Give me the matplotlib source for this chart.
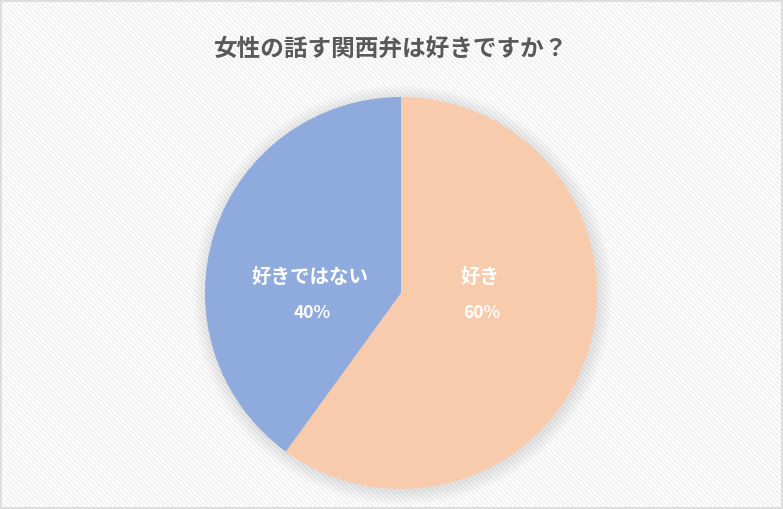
import matplotlib
matplotlib.use('Agg')
import matplotlib.pyplot as plt
from matplotlib.patches import Rectangle, Circle

# データ
labels = ['好き', '好きではない']
values = [60, 40]
colors = ['#F8CBAD', '#8FAADC']
title = '女性の話す関西弁は好きですか？'

plt.rcParams['font.family'] = ['Noto Sans CJK JP', 'DejaVu Sans']
plt.rcParams['hatch.linewidth'] = 1.0
plt.rcParams['hatch.color'] = '#eeeeee'

W, H = 783, 509
fig = plt.figure(figsize=(W / 100, H / 100), dpi=100)
fig.patch.set_facecolor('white')

# 斜線の背景
bg = Rectangle((0, 0), 1, 1, transform=fig.transFigure, facecolor='white',
               edgecolor='#eeeeee', hatch='\\' * 7, linewidth=0, zorder=-10)
fig.patches.append(bg)
border = Rectangle((0.0007, 0.001), 0.9986, 0.998, transform=fig.transFigure,
                   fill=False, edgecolor='#d9d9d9', linewidth=1.2, zorder=10)
fig.patches.append(border)

# 円グラフ (中心 401,293 / 半径 196 px)
cx, cy, r = 401, 293, 196
ax = fig.add_axes([(cx - r) / W, (H - cy - r) / H, 2 * r / W, 2 * r / H])
ax.axis('off')

# ぼかし影
for i in range(12):
    ax.add_patch(Circle((0.008, -0.01), 1.0 + 0.006 * (12 - i), facecolor='black',
                        edgecolor='none', alpha=0.008, zorder=1, clip_on=False))

wedges, _ = ax.pie(values, colors=colors, startangle=90, counterclock=False,
                   radius=1.0, wedgeprops=dict(linewidth=0))
for w in wedges:
    w.set_zorder(3)
ax.set_xlim(-1, 1)
ax.set_ylim(-1, 1)
ax.set_aspect('equal')

# ラベル
label_pos = [(0.40, -0.01), (-0.465, -0.01)]
for (x, y), lab, v in zip(label_pos, labels, values):
    ax.text(x, y + 0.085, lab, ha='center', va='center', color='white',
            fontsize=14, fontweight='bold', zorder=5)
    ax.text(x + 0.01, y - 0.09, f'{v}%', ha='center', va='center', color='white',
            fontsize=12.5, fontweight='bold', zorder=5)

fig.text(0.5, 1 - 49 / H, title, ha='center', va='center', color='#595959',
         fontsize=17, fontweight='bold')

fig.savefig('out.png', dpi=100)
